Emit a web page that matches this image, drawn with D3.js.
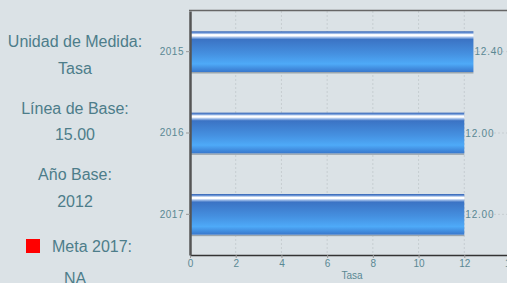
<!DOCTYPE html>
<html>
<head>
<meta charset="utf-8">
<script src="https://cdn.jsdelivr.net/npm/d3@7"></script>
<style>
  body { margin: 0; background: #dbe2e6; overflow: hidden; }
  svg { display: block; font-family: "Liberation Sans", Arial, sans-serif; }
</style>
</head>
<body>
<div id="chart"></div>
<script>
// DATA
const years = ["2015", "2016", "2017"];
const values = [12.40, 12.00, 12.00];
const xTicks = [0, 2, 4, 6, 8, 10, 12, 14];
const infoLabels = ["Unidad de Medida:", "Línea de Base:", "Año Base:", "Meta 2017:"];
const infoValues = ["Tasa", "15.00", "2012", "NA"];

const width = 507, height = 283;
const margin = {top: 11, left: 190, bottom: 255, right: 510};
const textColor = "#4d7d8a";

const svg = d3.select("#chart").append("svg")
    .attr("width", width)
    .attr("height", height);

// GRADIENT FOR BARS
const defs = svg.append("defs");
const grad = defs.append("linearGradient")
    .attr("id", "barGrad")
    .attr("x1", 0).attr("y1", 0).attr("x2", 0).attr("y2", 1);
[[0, "#2d5fb2"], [0.04, "#6f98d8"], [0.08, "#ffffff"], [0.11, "#ffffff"],
 [0.15, "#9dbbe8"], [0.2, "#3b73c4"], [0.55, "#4590e0"], [0.8, "#4eaaf8"], [1, "#3877cc"]]
    .forEach(s => grad.append("stop").attr("offset", s[0]).attr("stop-color", s[1]));

// SCALES
const x = d3.scaleLinear().domain([0, 14]).range([margin.left, margin.right]);
const y = d3.scaleBand().domain(years).range([margin.top, margin.bottom]).paddingInner(0.5).paddingOuter(0.25);

// LEFT INFO PANEL
const info = svg.append("g").attr("fill", textColor).attr("text-anchor", "middle");
const labelY = [47, 114, 180, 252];
const valueY = [74, 140, 207, 284];
infoLabels.forEach((lab, i) => {
    info.append("text").attr("x", i === 3 ? 92 : 75).attr("y", labelY[i])
        .style("font-size", "16px").text(lab);
    info.append("text").attr("x", 75).attr("y", valueY[i])
        .style("font-size", "16px").text(infoValues[i]);
});
svg.append("rect").attr("x", 26).attr("y", 239).attr("width", 14).attr("height", 14).attr("fill", "#ff0000");

// GRID
svg.append("g").selectAll("line")
    .data(xTicks.slice(1))
    .enter().append("line")
    .attr("x1", d => x(d)).attr("x2", d => x(d))
    .attr("y1", margin.top).attr("y2", margin.bottom)
    .attr("stroke", "#c6cdd1").attr("stroke-dasharray", "2,2");

svg.append("g").selectAll("line")
    .data(years)
    .enter().append("line")
    .attr("x1", margin.left).attr("x2", width)
    .attr("y1", d => y(d) + y.bandwidth() / 2).attr("y2", d => y(d) + y.bandwidth() / 2)
    .attr("stroke", "#c6cdd1").attr("stroke-dasharray", "2,2");

// BARS
const bars = svg.append("g");
bars.selectAll(".shadow")
    .data(years)
    .enter().append("rect")
    .attr("class", "shadow")
    .attr("x", x(0))
    .attr("y", d => y(d) + y.bandwidth())
    .attr("width", (d, i) => x(values[i]) - x(0))
    .attr("height", 1.5)
    .attr("fill", "#9aa5ad");
bars.selectAll(".bar")
    .data(years)
    .enter().append("rect")
    .attr("class", "bar")
    .attr("x", x(0))
    .attr("y", d => y(d))
    .attr("width", (d, i) => x(values[i]) - x(0))
    .attr("height", y.bandwidth())
    .attr("fill", "url(#barGrad)");

// VALUE LABELS
svg.append("g").selectAll("text")
    .data(years)
    .enter().append("text")
    .attr("x", (d, i) => x(values[i]) + 1)
    .attr("y", d => y(d) + y.bandwidth() / 2 + 3.5)
    .attr("fill", "#5a8893")
    .style("font-size", "10px")
    .style("letter-spacing", "0.8px")
    .text((d, i) => values[i].toFixed(2));

// AXES
const xAxis = svg.append("g")
    .attr("transform", "translate(0," + margin.bottom + ")")
    .call(d3.axisBottom(x).tickValues(xTicks).tickSize(3).tickSizeOuter(0).tickFormat(d3.format("d")));
xAxis.select(".domain").attr("stroke", "#333").attr("stroke-width", 1.5);
xAxis.selectAll(".tick line").attr("stroke", "#999");
xAxis.selectAll("text").attr("fill", "#5a8893").style("font-size", "10px").attr("dy", "0.6em");

const yAxis = svg.append("g")
    .attr("transform", "translate(" + margin.left + ",0)")
    .call(d3.axisLeft(y).tickSize(4).tickSizeOuter(0).tickPadding(2));
yAxis.select(".domain").attr("stroke", "#555").attr("stroke-width", 2.5);
yAxis.selectAll(".tick line").attr("stroke", "#999");
yAxis.selectAll("text").attr("fill", "#5a8893").style("font-size", "10px").style("letter-spacing", "0.5px");

// TOP BORDER
svg.append("line")
    .attr("x1", margin.left - 1).attr("x2", width)
    .attr("y1", margin.top - 0.5).attr("y2", margin.top - 0.5)
    .attr("stroke", "#666").attr("stroke-width", 1.5);

// AXIS TITLE
svg.append("text")
    .attr("x", 352).attr("y", 279)
    .attr("text-anchor", "middle")
    .attr("fill", "#5a8893")
    .style("font-size", "10px")
    .text("Tasa");
</script>
</body>
</html>
